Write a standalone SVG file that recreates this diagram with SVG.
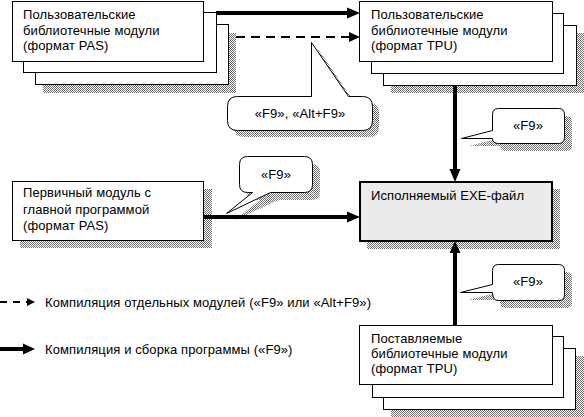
<svg xmlns="http://www.w3.org/2000/svg" width="584" height="417" viewBox="0 0 584 417">
<style>
.box{fill:#fff;stroke:#000;stroke-width:1}
.exe{fill:#ebebeb;stroke:#000;stroke-width:2}
.sh{fill:url(#dots);stroke:none}
.co{fill:#fff;stroke:#000;stroke-width:1}
.t{font-family:"Liberation Sans",Arial,sans-serif;font-size:13px;letter-spacing:0.1px;fill:#000}
.thick{stroke:#000;stroke-width:4;fill:none}
.dash{stroke:#000;stroke-width:2;fill:none;stroke-dasharray:9 6}
.head{fill:#000}
</style>
<defs>
<pattern id="dots" width="2" height="2" patternUnits="userSpaceOnUse">
<rect width="2" height="2" fill="#fff"/>
<rect width="1" height="1" fill="#6e6e6e"/>
<rect x="1" y="1" width="1" height="1" fill="#6e6e6e"/>
</pattern>
</defs>
<rect width="584" height="417" fill="#fff"/>

<g id="user-pas">
<rect class="sh" x="43" y="33" width="193" height="60"/>
<rect class="box" x="35.5" y="24.5" width="193" height="60"/>
<rect class="box" x="23.5" y="12.5" width="193" height="60"/>
<rect class="box" x="12.5" y="1.5" width="191" height="60"/>
<text class="t" x="23" y="19">Пользовательские</text>
<text class="t" x="23" y="35">библиотечные модули</text>
<text class="t" x="23" y="50">(формат PAS)</text>
</g>

<g id="user-tpu">
<rect class="sh" x="391" y="33" width="193" height="60"/>
<rect class="box" x="383.5" y="25.5" width="193" height="60"/>
<rect class="box" x="371.5" y="13.5" width="192" height="60"/>
<rect class="box" x="359.5" y="1.5" width="193" height="60"/>
<text class="t" x="371" y="19">Пользовательские</text>
<text class="t" x="371" y="35">библиотечные модули</text>
<text class="t" x="371" y="50">(формат TPU)</text>
</g>

<g id="primary">
<rect class="sh" x="20" y="189" width="192" height="59"/>
<rect class="box" x="12.5" y="181.5" width="191" height="59"/>
<text class="t" x="23" y="197">Первичный модуль с</text>
<text class="t" x="23" y="214">главной программой</text>
<text class="t" x="23" y="230">(формат PAS)</text>
</g>

<g id="exe">
<rect class="sh" x="367" y="189" width="193" height="60"/>
<rect class="exe" x="360" y="182" width="192" height="59"/>
<text class="t" x="371" y="200">Исполняемый EXE-файл</text>
</g>

<g id="supplied-tpu">
<rect class="sh" x="391" y="356" width="193" height="61"/>
<rect class="box" x="383.5" y="348.5" width="192" height="61"/>
<rect class="box" x="372.5" y="336.5" width="191" height="61"/>
<rect class="box" x="359.5" y="325.5" width="193" height="59"/>
<text class="t" x="371" y="343">Поставляемые</text>
<text class="t" x="371" y="358">библиотечные модули</text>
<text class="t" x="371" y="373">(формат TPU)</text>
</g>

<g id="callout-f9-altf9">
<path class="sh" d="M318,49 L355,103 H369 Q379,103 379,113 V127 Q379,137 369,137 H244 Q234,137 234,127 V113 Q234,103 244,103 H318 Z"/>
<path class="co" d="M311.5,42.5 L348.5,96.5 H362.5 Q372.5,96.5 372.5,106.5 V120.5 Q372.5,130.5 362.5,130.5 H237.5 Q227.5,130.5 227.5,120.5 V106.5 Q227.5,96.5 237.5,96.5 H311.5 Z"/>
<text class="t" x="300" y="118" text-anchor="middle">«F9», «Alt+F9»</text>
</g>

<g id="callout-f9-top">
<path class="sh" d="M469,146 L500,138 V122 Q500,116 506,116 H566 Q572,116 572,122 V145 Q572,151 566,151 H506 Q500,151 500,146 Z"/>
<path class="co" d="M461.5,138.5 L492.5,130.5 V114.5 Q492.5,108.5 498.5,108.5 H558.5 Q564.5,108.5 564.5,114.5 V137.5 Q564.5,143.5 558.5,143.5 H498.5 Q492.5,143.5 492.5,138.5 Z"/>
<text class="t" x="528" y="130" text-anchor="middle">«F9»</text>
</g>

<g id="callout-f9-mid">
<path class="sh" d="M234,221 L278,200 H312 Q320,200 320,192 V172 Q320,164 312,164 H255 Q247,164 247,172 V192 Q247,200 255,200 H260 Z"/>
<path class="co" d="M226.5,213.5 L270.5,192.5 H304.5 Q312.5,192.5 312.5,184.5 V164.5 Q312.5,156.5 304.5,156.5 H247.5 Q239.5,156.5 239.5,164.5 V184.5 Q239.5,192.5 247.5,192.5 H252.5 Z"/>
<text class="t" x="276" y="179" text-anchor="middle">«F9»</text>
</g>

<g id="callout-f9-bottom">
<path class="sh" d="M468,300 L500,292 V278 Q500,272 506,272 H566 Q572,272 572,278 V302 Q572,308 566,308 H506 Q500,308 500,300 Z"/>
<path class="co" d="M460.5,292.5 L492.5,284.5 V270.5 Q492.5,264.5 498.5,264.5 H558.5 Q564.5,264.5 564.5,270.5 V294.5 Q564.5,300.5 558.5,300.5 H498.5 Q492.5,300.5 492.5,292.5 Z"/>
<text class="t" x="528" y="286" text-anchor="middle">«F9»</text>
</g>

<g id="connectors">
<line class="thick" x1="216" y1="13" x2="348" y2="13"/>
<polygon class="head" points="347,7.5 360,13 347,18.5"/>
<line class="dash" x1="236" y1="37" x2="349" y2="37"/>
<polygon class="head" points="349,32 360,37 349,42"/>
<line class="thick" x1="455" y1="85" x2="455" y2="170"/>
<polygon class="head" points="449.5,169 455,182 460.5,169"/>
<line class="thick" x1="203" y1="217" x2="348" y2="217"/>
<polygon class="head" points="347,211.5 360,217 347,222.5"/>
<line class="thick" x1="455" y1="325" x2="455" y2="252"/>
<polygon class="head" points="449.5,253 455,241 460.5,253"/>
</g>

<g id="legend">
<line class="dash" x1="0" y1="302" x2="27" y2="302" style="stroke-dasharray:7 6"/>
<polygon class="head" points="27,298 35,302 27,306"/>
<text class="t" x="45" y="307">Компиляция отдельных модулей («F9» или «Alt+F9»)</text>
<line class="thick" x1="0" y1="349" x2="24" y2="349"/>
<polygon class="head" points="23,343.5 35,349 23,354.5"/>
<text class="t" x="45" y="354">Компиляция и сборка программы («F9»)</text>
</g>
</svg>
